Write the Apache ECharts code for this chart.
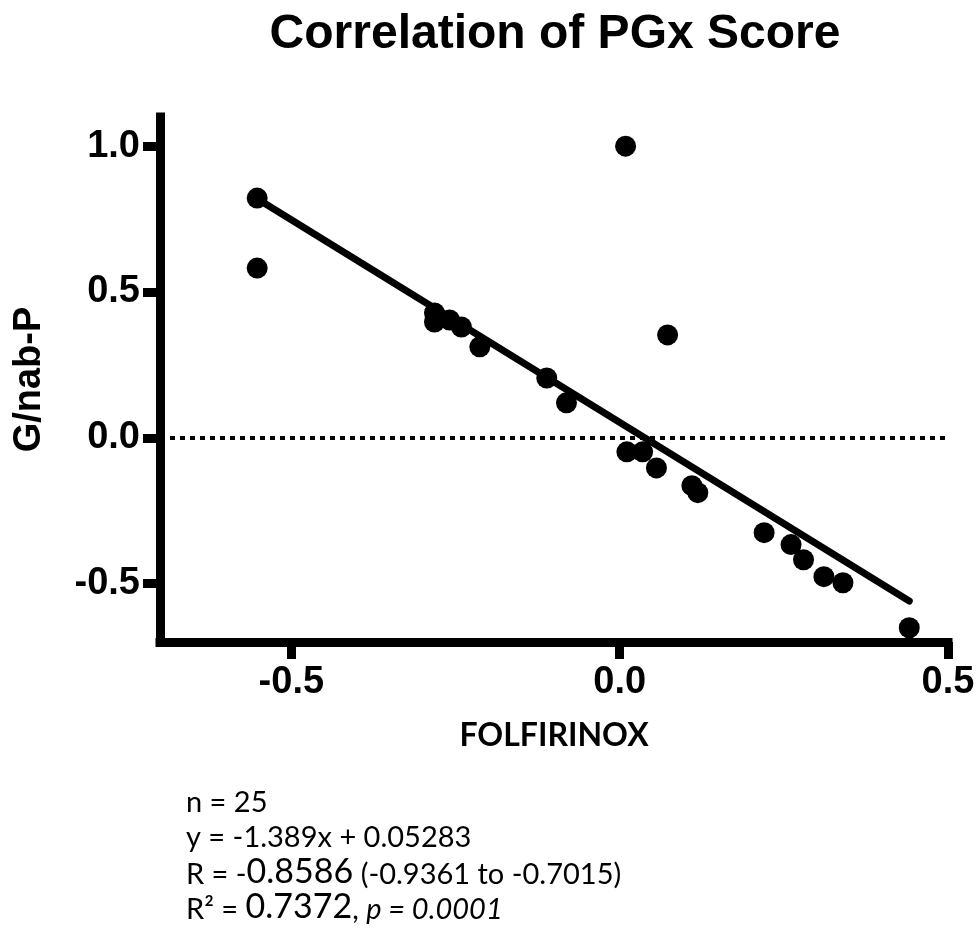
<!DOCTYPE html>
<html>
<head>
<meta charset="utf-8">
<title>Correlation of PGx Score</title>
<script src="https://cdn.jsdelivr.net/npm/echarts@6/dist/echarts.min.js"></script>
<style>
  html, body { margin: 0; padding: 0; background: #fff; }
  #chart { width: 979px; height: 941px; }
</style>
</head>
<body>
<div id="chart"></div>
<script>
  // PGx score per patient: FOLFIRINOX (x) vs G/nab-P (y)
  var folfirinox = [-0.552, -0.552, -0.282, -0.282, -0.259, -0.241, -0.213, -0.111, -0.081, 0.009, 0.011,
    0.035, 0.056, 0.073, 0.110, 0.119, 0.220, 0.261, 0.280, 0.311, 0.340, 0.441];
  var gnabP = [0.822, 0.582, 0.428, 0.397, 0.404, 0.380, 0.312, 0.205, 0.120, 1.000, -0.048,
    -0.048, -0.103, 0.353, -0.164, -0.188, -0.325, -0.366, -0.418, -0.476, -0.497, -0.651];

  // linear regression printed under the chart
  var fitSlope = -1.389;
  var fitIntercept = 0.05283;

  var xTicks = [-0.5, 0.0, 0.5];
  var yTicks = [-0.5, 0.0, 0.5, 1.0];

  var statLines = [
    '{n|n = 25}',
    '{n|y = -1.389x + 0.05283}',
    '{n|R = -}{b|0.8586}{n| (-0.9361 to -0.7015)}',
    '{n|R² = }{b|0.7372}{n|, }{i|p = 0.0001}'
  ];

  var points = [];
  for (var i = 0; i < folfirinox.length; i++) {
    points.push([folfirinox[i], gnabP[i]]);
  }
  var xMin = Math.min.apply(null, folfirinox);
  var xMax = Math.max.apply(null, folfirinox);
  var fitLine = [
    [xMin, fitSlope * xMin + fitIntercept],
    [xMax, fitSlope * xMax + fitIntercept]
  ];

  var sans = '"Liberation Sans", Arial, sans-serif';
  var calib = 'Lato, "Open Sans", sans-serif';

  var statRich = {
    n: { fontFamily: calib, fontSize: 29, color: '#000', verticalAlign: 'bottom' },
    b: { fontFamily: calib, fontSize: 34, color: '#000', verticalAlign: 'bottom' },
    i: { fontFamily: calib, fontSize: 29, fontStyle: 'italic', color: '#000', verticalAlign: 'bottom' }
  };
  var graphics = [{
    type: 'text',
    x: 555,
    y: 35,
    style: {
      text: 'Correlation of PGx Score',
      font: 'bold 48px ' + sans,
      fill: '#000',
      align: 'center', verticalAlign: 'middle',
      textAlign: 'center', textVerticalAlign: 'middle'
    }
  }];
  for (var k = 0; k < statLines.length; k++) {
    graphics.push({
      type: 'text',
      x: 186,
      y: 803 + k * 34.7,
      style: {
        text: statLines[k],
        rich: statRich,
        fill: '#000',
        align: 'left', verticalAlign: 'middle',
        textAlign: 'left', textVerticalAlign: 'middle'
      }
    });
  }

  function axisCommon(ticks) {
    return {
      type: 'value',
      nameLocation: 'middle',
      axisLine: { onZero: false, lineStyle: { color: '#000', width: 9, cap: 'square' } },
      axisTick: { show: true, customValues: ticks, length: 17, lineStyle: { color: '#000', width: 9 } },
      axisLabel: {
        customValues: ticks,
        fontFamily: sans, fontWeight: 'bold', fontSize: 38, color: '#000',
        formatter: function (v) { return v.toFixed(1); }
      },
      splitLine: { show: false }
    };
  }

  var xAxis = axisCommon(xTicks);
  xAxis.min = -0.7;
  xAxis.max = 0.5;
  xAxis.name = 'FOLFIRINOX';
  xAxis.nameGap = 78;
  xAxis.nameTextStyle = { fontFamily: calib, fontWeight: 'bold', fontSize: 32, color: '#000' };
  xAxis.axisLabel.margin = 22;

  var yAxis = axisCommon(yTicks);
  yAxis.min = -0.7;
  yAxis.max = 1.1;
  yAxis.name = 'G/nab-P';
  yAxis.nameRotate = 90;
  yAxis.nameGap = 111;
  yAxis.nameTextStyle = { fontFamily: sans, fontWeight: 'bold', fontSize: 38, color: '#000' };
  yAxis.axisLabel.margin = 20;

  var chart = echarts.init(document.getElementById('chart'));
  chart.setOption({
    backgroundColor: '#fff',
    animation: false,
    grid: { left: 160, right: 31, top: 117, bottom: 299, containLabel: false },
    xAxis: xAxis,
    yAxis: yAxis,
    graphic: graphics,
    series: [
      {
        type: 'line',
        data: fitLine,
        symbol: 'none',
        silent: true,
        lineStyle: { color: '#000', width: 7, cap: 'round' },
        markLine: {
          silent: true,
          symbol: 'none',
          label: { show: false },
          lineStyle: { color: '#000', width: 4, type: [5, 5] },
          data: [{ yAxis: 0 }]
        }
      },
      {
        type: 'scatter',
        data: points,
        symbol: 'circle',
        symbolSize: 21,
        itemStyle: { color: '#000', opacity: 1 }
      }
    ]
  });
</script>
</body>
</html>
